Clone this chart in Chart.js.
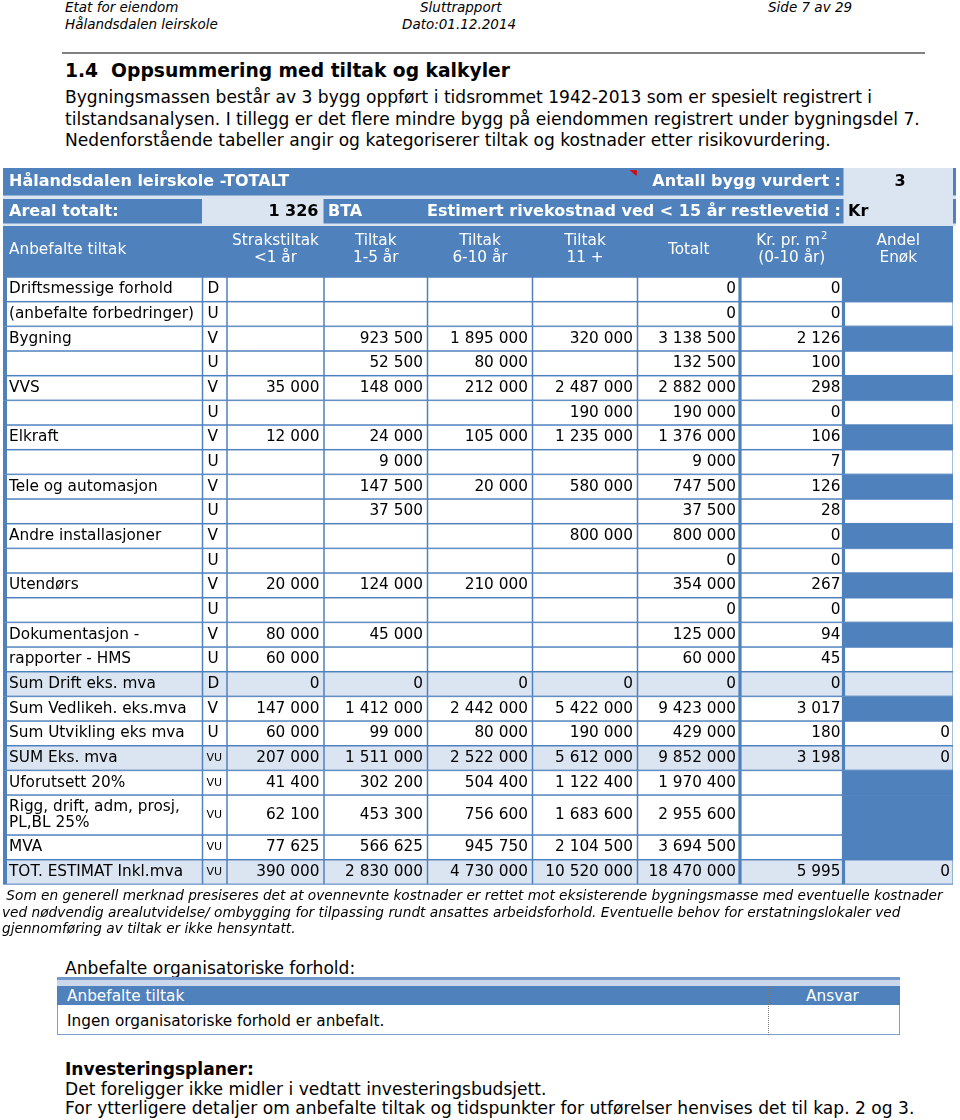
<!DOCTYPE html>
<html lang="no">
<head>
<meta charset="utf-8">
<title>Hålandsdalen leirskole - Oppsummering med tiltak og kalkyler</title>
<script src="https://cdn.jsdelivr.net/npm/chart.js@4.4.1/dist/chart.umd.min.js"></script>
<style>
    body {
        margin: 0;
        width: 960px;
        height: 1120px;
        position: relative;
        overflow: hidden;
        background: #fff;
        color: #000;
        font-family: "DejaVu Sans", Verdana, sans-serif;
    }
    .t {
        position: absolute;
        white-space: pre;
        line-height: 20px;
        height: 20px;
    }
    .hdr { font-size: 13.5px; font-style: italic; }
    .body { font-size: 17.1px; }
    .note { font-size: 13.7px; font-style: italic; }
    .small { font-size: 15.3px; }
    .rule { position: absolute; left: 62px; top: 52px; width: 863px; height: 1.5px; background: #808080; }
    #tabell { position: absolute; left: 0; top: 165px; }
    .org { position: absolute; }
</style>
</head>
<body>

<div class="t hdr" style="left:65px;top:-3px">Etat for eiendom</div>
<div class="t hdr" style="left:420px;top:-3px">Sluttrapport</div>
<div class="t hdr" style="left:768px;top:-3px">Side 7 av 29</div>
<div class="t hdr" style="left:65px;top:14px">Hålandsdalen leirskole</div>
<div class="t hdr" style="left:402px;top:14px">Dato:01.12.2014</div>
<div class="rule"></div>

<div class="t" style="left:65px;top:60.5px;font-size:18.7px;font-weight:bold">1.4  Oppsummering med tiltak og kalkyler</div>
<div class="t body" style="left:65px;top:87px">Bygningsmassen består av 3 bygg oppført i tidsrommet 1942-2013 som er spesielt registrert i</div>
<div class="t body" style="left:65px;top:108.5px">tilstandsanalysen. I tillegg er det flere mindre bygg på eiendommen registrert under bygningsdel 7.</div>
<div class="t body" style="left:65px;top:130px">Nedenforstående tabeller angir og kategoriserer tiltak og kostnader etter risikovurdering.</div>

<canvas id="tabell" width="960" height="725"></canvas>

<div class="t note" style="left:2px;top:885px"> Som en generell merknad presiseres det at ovennevnte kostnader er rettet mot eksisterende bygningsmasse med eventuelle kostnader</div>
<div class="t note" style="left:2px;top:901.7px">ved nødvendig arealutvidelse/ ombygging for tilpassing rundt ansattes arbeidsforhold. Eventuelle behov for erstatningslokaler ved</div>
<div class="t note" style="left:2px;top:918.3px">gjennomføring av tiltak er ikke hensyntatt.</div>

<div class="t body" style="left:65px;top:958px">Anbefalte organisatoriske forhold:</div>
<div class="org" style="left:57px;top:977px;width:843px;height:3px;background:#7399cc"></div>
<div class="org" style="left:57px;top:980px;width:843px;height:6px;background:#cbd8eb"></div>
<div class="org" style="left:57px;top:986px;width:843px;height:19px;background:#4f81bd"></div>
<div class="org" style="left:57px;top:1005px;width:841px;height:29px;background:#fff;border:1px solid #7f9fcf;border-top:none"></div>
<div class="org" style="left:768px;top:986px;width:0;height:49px;border-left:1px dotted #777"></div>
<div class="t small" style="left:67px;top:985.5px;color:#fff">Anbefalte tiltak</div>
<div class="t small" style="left:806px;top:985.5px;color:#fff">Ansvar</div>
<div class="t small" style="left:67px;top:1011px">Ingen organisatoriske forhold er anbefalt.</div>

<div class="t body" style="left:65px;top:1059px;font-weight:bold">Investeringsplaner:</div>
<div class="t body" style="left:65px;top:1079px">Det foreligger ikke midler i vedtatt investeringsbudsjett.</div>
<div class="t body" style="left:65px;top:1098px">For ytterligere detaljer om anbefalte tiltak og tidspunkter for utførelser henvises det til kap. 2 og 3.</div>

<script>
/* ─────────────────────────────────────────
   DATA
───────────────────────────────────────── */
const tableTitle = 'Hålandsdalen leirskole -TOTALT';
const antallBygg = 3;
const arealTotalt = 1326;

const colHeads = [
    ['Strakstiltak', '<1 år'],
    ['Tiltak', '1-5 år'],
    ['Tiltak', '6-10 år'],
    ['Tiltak', '11 +'],
    ['Totalt'],
    ['Kr. pr. m²', '(0-10 år)'],
    ['Andel', 'Enøk'],
];

const rowLabels = [
    'Driftsmessige forhold', '(anbefalte forbedringer)',
    'Bygning', '', 'VVS', '', 'Elkraft', '', 'Tele og automasjon', '',
    'Andre installasjoner', '', 'Utendørs', '',
    'Dokumentasjon -', 'rapporter - HMS',
    'Sum Drift eks. mva', 'Sum Vedlikeh. eks.mva', 'Sum Utvikling eks mva', 'SUM Eks. mva',
    'Uforutsett 20%', 'Rigg, drift, adm, prosj,\nPL,BL 25%', 'MVA', 'TOT. ESTIMAT Inkl.mva',
];
const rowCodes = ['D', 'U', 'V', 'U', 'V', 'U', 'V', 'U', 'V', 'U', 'V', 'U', 'V', 'U', 'V', 'U',
    'D', 'V', 'U', 'VU', 'VU', 'VU', 'VU', 'VU'];

const straks = [null, null, null, null, 35000, null, 12000, null, null, null, null, null,
    20000, null, 80000, 60000, 0, 147000, 60000, 207000, 41400, 62100, 77625, 390000];
const tiltak15 = [null, null, 923500, 52500, 148000, null, 24000, 9000, 147500, 37500, null, null,
    124000, null, 45000, null, 0, 1412000, 99000, 1511000, 302200, 453300, 566625, 2830000];
const tiltak610 = [null, null, 1895000, 80000, 212000, null, 105000, null, 20000, null, null, null,
    210000, null, null, null, 0, 2442000, 80000, 2522000, 504400, 756600, 945750, 4730000];
const tiltak11 = [null, null, 320000, null, 2487000, 190000, 1235000, null, 580000, null, 800000, null,
    null, null, null, null, 0, 5422000, 190000, 5612000, 1122400, 1683600, 2104500, 10520000];
const totalt = [0, 0, 3138500, 132500, 2882000, 190000, 1376000, 9000, 747500, 37500, 800000, 0,
    354000, 0, 125000, 60000, 0, 9423000, 429000, 9852000, 1970400, 2955600, 3694500, 18470000];
const krPrM2 = [0, 0, 2126, 100, 298, 0, 106, 7, 126, 28, 0, 0,
    267, 0, 94, 45, 0, 3017, 180, 3198, null, null, null, 5995];
const andelEnok = [null, null, null, null, null, null, null, null, null, null, null, null,
    null, null, null, null, null, null, 0, 0, null, null, null, 0];

/* ─────────────────────────────────────────
   LAYOUT / STYLE
───────────────────────────────────────── */
const BLUE = '#4f81bd';
const LIGHT = '#dbe5f1';
const FONT = '15.3px "DejaVu Sans"';
const BOLD = 'bold 16px "DejaVu Sans"';
const colEdges = [3, 202.5, 227, 324, 427.5, 532.5, 637.5, 740, 843.5, 953];
const edgeW = [8, 1.5, 1.5, 1.5, 1.5, 1.5, 1.5, 3.2, 3.2, 1];
const padRight = [0, 0, 4.6, 4.6, 4.6, 4.6, 4, 3, 3];
const shadedRows = [16, 19, 23];
const DATA_TOP = 277;
const ROW_H = 24.67;

function fmt(v) {
    return String(v).replace(/\B(?=(\d{3})+(?!\d))/g, ' ');
}

/* ─────────────────────────────────────────
   TABLE PLUGIN
───────────────────────────────────────── */
const tablePlugin = {
    id: 'tabell',
    afterDraw(chart) {
        const ctx = chart.ctx;
        const sx = chart.scales.x, sy = chart.scales.y;
        const X = v => sx.getPixelForValue(v);
        const Y = v => sy.getPixelForValue(v);

        function box(x0, y0, x1, y1, color) {
            ctx.fillStyle = color;
            ctx.fillRect(X(x0), Y(y0), X(x1) - X(x0), Y(y1) - Y(y0));
        }
        function text(str, x, y, align, font, color) {
            ctx.font = font;
            ctx.fillStyle = color || '#000';
            ctx.textAlign = align;
            ctx.textBaseline = 'middle';
            ctx.fillText(str, X(x), Y(y));
        }

        ctx.save();

        // top rows
        box(3, 168, 956, 226, LIGHT);
        box(3, 168, 843.5, 195.5, BLUE);
        box(953, 168, 956, 195.5, BLUE);
        box(3, 199, 202, 223.5, BLUE);
        box(323.5, 199, 843.5, 223.5, BLUE);
        box(953, 199, 956, 223.5, BLUE);
        box(3, 226, 953, DATA_TOP, BLUE);

        // comment marker
        ctx.fillStyle = '#e00000';
        ctx.beginPath();
        ctx.moveTo(X(629.5), Y(170));
        ctx.lineTo(X(637), Y(170.5));
        ctx.lineTo(X(636.5), Y(176));
        ctx.closePath();
        ctx.fill();

        text(tableTitle, 9, 182, 'left', BOLD, '#fff');
        text('Antall bygg vurdert :', 841, 182, 'right', BOLD, '#fff');
        text(String(antallBygg), 900, 182, 'center', BOLD, '#000');
        text('Areal totalt:', 9, 211.5, 'left', BOLD, '#fff');
        text(fmt(arealTotalt), 318.5, 211.5, 'right', BOLD, '#000');
        text('BTA', 328, 211.5, 'left', BOLD, '#fff');
        text('Estimert rivekostnad ved < 15 år restlevetid :', 841, 211.5, 'right', BOLD, '#fff');
        text('Kr', 848, 211.5, 'left', BOLD, '#000');

        // column headers
        text('Anbefalte tiltak', 9, 250, 'left', FONT, '#fff');
        colHeads.forEach((lines, i) => {
            const c = i + 2;
            const cx = (colEdges[c] + colEdges[c + 1]) / 2;
            const ys = lines.length === 1 ? [250] : [241, 258.5];
            lines.forEach((ln, k) => {
                if (ln.includes('²')) {
                    const base = ln.replace('²', '');
                    ctx.font = FONT;
                    const wb = ctx.measureText(base).width;
                    ctx.font = '10px "DejaVu Sans"';
                    const ws = ctx.measureText('2').width;
                    const x0 = cx - (wb + ws + 1) / 2;
                    text(base, x0, ys[k], 'left', FONT, '#fff');
                    text('2', x0 + wb + 1, ys[k] - 5, 'left', '10px "DejaVu Sans"', '#fff');
                } else {
                    text(ln, cx, ys[k], 'center', FONT, '#fff');
                }
            });
        });

        // data rows
        const cols = [straks, tiltak15, tiltak610, tiltak11, totalt, krPrM2, andelEnok];
        let top = DATA_TOP;
        rowLabels.forEach((label, r) => {
            const h = ROW_H * (label.includes('\n') ? 1.62 : 1);
            const bot = top + h;
            const mid = top + h / 2;
            const shade = shadedRows.includes(r);

            box(3, top, 953, bot + 0.3, BLUE);
            for (let c = 0; c < 9; c++) {
                let fill = shade ? LIGHT : '#fff';
                if (c === 8 && !shade) fill = rowCodes[r] === 'U' ? '#fff' : BLUE;
                box(colEdges[c] + edgeW[c] / 2, top + 0.75,
                    colEdges[c + 1] - edgeW[c + 1] / 2, bot - 0.75, fill);
            }

            const lines = label.split('\n');
            if (lines.length === 2) {
                text(lines[0], 9, mid - 8.2, 'left', FONT);
                text(lines[1], 9, mid + 8.2, 'left', FONT);
            } else if (label) {
                text(label, 9, mid, 'left', FONT);
            }

            const code = rowCodes[r];
            if (code === 'VU') text(code, 206.5, mid, 'left', '11px "DejaVu Sans"');
            else text(code, 207.5, mid, 'left', FONT);

            cols.forEach((arr, i) => {
                const v = arr[r];
                if (v === null || v === undefined) return;
                const c = i + 2;
                text(fmt(v), colEdges[c + 1] - padRight[c], mid, 'right', FONT);
            });

            top = bot;
        });

        ctx.restore();
    }
};

new Chart(document.getElementById('tabell'), {
    type: 'scatter',
    data: {datasets: []},
    options: {
        responsive: false,
        animation: false,
        events: [],
        layout: {padding: 0},
        plugins: {legend: {display: false}, tooltip: {enabled: false}},
        scales: {
            x: {type: 'linear', min: 0, max: 960, display: false},
            y: {type: 'linear', min: 165, max: 890, reverse: true, display: false}
        }
    },
    plugins: [tablePlugin]
});
</script>
</body>
</html>
